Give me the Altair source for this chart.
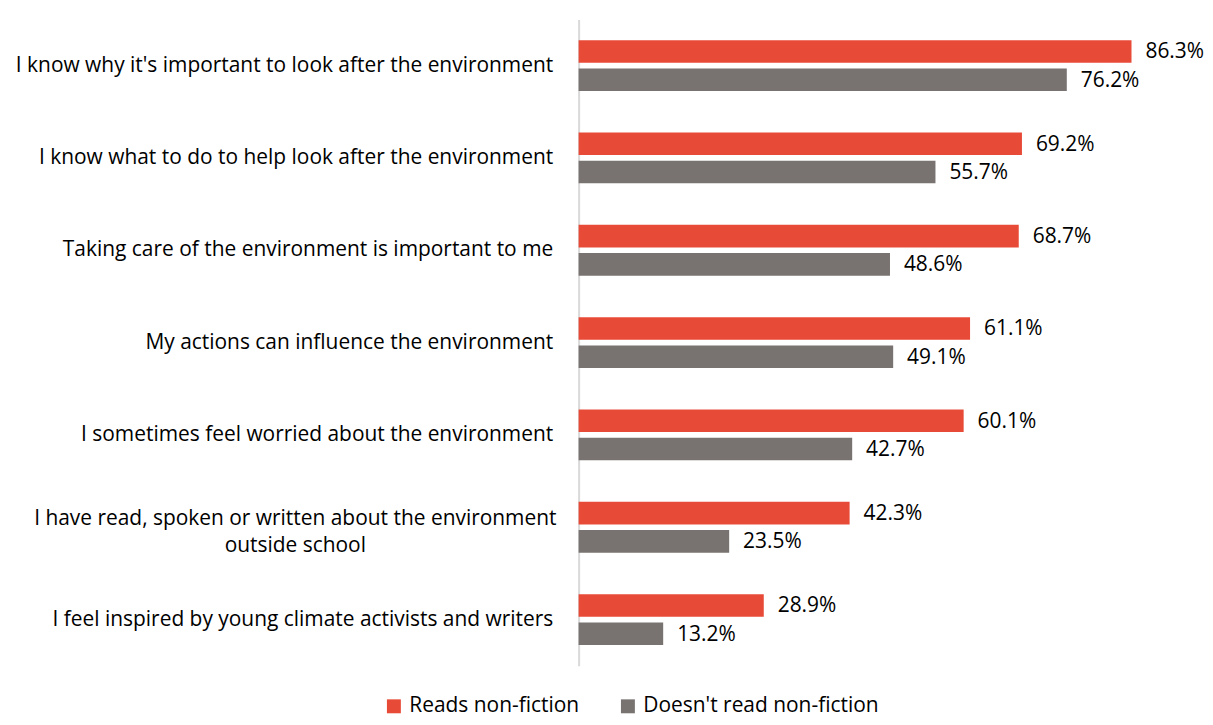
import altair as alt
import pandas as pd

categories = [
    "I know why it's important to look after the environment",
    "I know what to do to help look after the environment",
    "Taking care of the environment is important to me",
    "My actions can influence the environment",
    "I sometimes feel worried about the environment",
    "I have read, spoken or written about the environment|outside school",
    "I feel inspired by young climate activists and writers",
]
groups = ["Reads non-fiction", "Doesn't read non-fiction"]
reads = [86.3, 69.2, 68.7, 61.1, 60.1, 42.3, 28.9]
doesnt = [76.2, 55.7, 48.6, 49.1, 42.7, 23.5, 13.2]
colors = ["#E84A38", "#787371"]

rows = []
for c, r, d in zip(categories, reads, doesnt):
    rows.append({"cat": c, "group": groups[0], "value": r})
    rows.append({"cat": c, "group": groups[1], "value": d})
df = pd.DataFrame(rows)
df["label"] = df["value"].map(lambda v: f"{v:.1f}%")

FONT = "Open Sans"
FS = 21
wrapped = categories[5]
is_wrapped = f"datum.value == '{wrapped}'"

base = alt.Chart(df).encode(
    y=alt.Y(
        "cat:N",
        sort=categories,
        scale=alt.Scale(paddingInner=0.45, paddingOuter=0.225),
        axis=alt.Axis(
            title=None,
            ticks=False,
            domainColor="#d9d9d9",
            domainWidth=2,
            labelFont=FONT,
            labelFontSize=FS,
            labelColor="#000000",
            labelLimit=0,
            labelLineHeight=27,
            labelExpr="split(datum.label, '|')",
            labelAlign=alt.condition(is_wrapped, alt.value("center"), alt.value("right")),
            labelPadding=alt.condition(is_wrapped, alt.value(285), alt.value(26)),
            labelOffset=alt.condition(is_wrapped, alt.value(-8), alt.value(0)),
        ),
    ),
    yOffset=alt.YOffset("group:N", sort=groups, scale=alt.Scale(paddingInner=0.2)),
)

bars = base.mark_bar().encode(
    x=alt.X("value:Q", scale=alt.Scale(domain=[0, 90]), axis=None),
    color=alt.Color(
        "group:N",
        sort=groups,
        scale=alt.Scale(domain=groups, range=colors),
        legend=alt.Legend(
            title=None,
            orient="none",
            legendX=-196,
            legendY=679,
            direction="horizontal",
            symbolType="square",
            symbolSize=196,
            symbolStrokeWidth=0,
            labelFont=FONT,
            labelFontSize=FS,
            labelColor="#000000",
            labelOffset=5,
            columnPadding=38,
            labelLimit=0,
        ),
    ),
)

text = base.mark_text(align="left", baseline="middle", dx=14, dy=1, font=FONT, fontSize=FS, color="#000000").encode(
    x=alt.X("value:Q"),
    text="label:N",
)

chart = (
    alt.layer(bars, text)
    .properties(
        width=579,
        height=649,
        autosize=alt.AutoSizeParams(type="none"),
        padding={"left": 573, "top": 10, "right": 50, "bottom": 50},
    )
    .configure_view(stroke=None)
)

chart.save("out.html", embed_options={"renderer": "svg", "actions": False})
